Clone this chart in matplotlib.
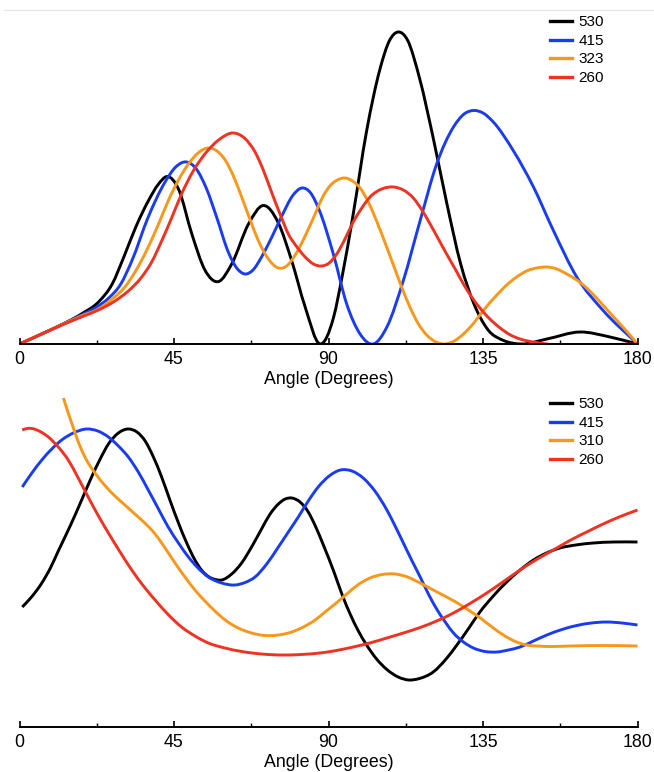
import numpy as np
import matplotlib
matplotlib.use("Agg")
import matplotlib.pyplot as plt
from matplotlib.path import Path
from matplotlib.patches import PathPatch
from matplotlib.lines import Line2D

plt.rcParams['font.family'] = ['Liberation Sans', 'DejaVu Sans']

# (angle, value) pairs, upper panel
top_530 = [(0, 0), (9, 14), (18, 30), (23, 42), (27, 60), (30.5, 88), (34, 118), (37.5, 143),
           (40.5, 160), (43, 167.5), (46.3, 155), (50.2, 110), (54, 74), (58, 62.5), (61.8, 80),
           (66.7, 120), (71, 138.5), (75.4, 121), (79.3, 83), (83.2, 37), (87.5, 0), (91.5, 27),
           (94, 68), (97.2, 130), (101.1, 213), (105, 275), (107.7, 303), (110.3, 312), (113, 304),
           (116.5, 266), (120.5, 206), (124.5, 140), (128.5, 80), (132.5, 39), (136.5, 14),
           (141, 3.5), (146, 0), (153.6, 5), (163.3, 12), (172, 7), (180, 0)]
top_415 = [(0, 0), (9, 14), (18, 29), (22, 36), (26, 46), (29.5, 60), (32.7, 83), (37.5, 127),
           (42.4, 162), (45.5, 177), (48.7, 182), (51.5, 175), (54.5, 155), (57.5, 126),
           (60.8, 92), (63.5, 75), (65.7, 70), (68, 74), (70.5, 87), (73.5, 107), (76.4, 128),
           (79.5, 148), (82.2, 156), (84.8, 151), (87.3, 134), (91.4, 90), (95.3, 40), (99.2, 10),
           (103.1, 0), (107, 17), (111.8, 63.5), (116.7, 123.5), (121.5, 180), (126.4, 217),
           (129.5, 230), (132.2, 233.5), (135, 231), (138, 222), (143.8, 193.5), (149.7, 157),
           (155.5, 113.5), (162.3, 67), (170, 33.5), (180, 0)]
top_323 = [(0, 0), (9, 14), (18, 28), (23, 35), (27, 45), (30.7, 57), (34, 74), (37.5, 97),
           (40.5, 120), (43.3, 143), (46.3, 164), (49.2, 180), (52, 191), (55, 196), (57.5, 193),
           (59.9, 184), (62.3, 168), (64.7, 147), (67.2, 124), (69.6, 103), (72.5, 85), (75.4, 76),
           (77.8, 78), (80.3, 89), (83.2, 108), (86.1, 130), (88.3, 147), (90.4, 158), (92.6, 164),
           (94.8, 166), (97, 163), (99.2, 156), (101.6, 142), (104, 123), (106.5, 101),
           (108.9, 79), (111.3, 57), (113.7, 37), (116.2, 20), (118.6, 9), (121.3, 2), (124, 0),
           (126.6, 3), (129.3, 10), (132.2, 20.5), (135.1, 33.5), (138.5, 47), (141.9, 59),
           (144.8, 67), (147.7, 73), (150.6, 76), (153.6, 77), (156.5, 75), (159.4, 70),
           (162.3, 64), (165.2, 56), (168.6, 44), (172, 31), (176, 16), (180, 0)]
top_260 = [(0, 0), (9, 14), (18, 27), (23, 34), (27.8, 43), (31.7, 53), (35.6, 67), (38.5, 82),
           (41.4, 103), (44.3, 126), (47.2, 150), (50.6, 173), (54, 190), (58, 204), (62.3, 211),
           (65.5, 206), (68.6, 192), (71, 174), (73.5, 151), (76, 129), (78.3, 110), (80.8, 97),
           (83.2, 87), (85.6, 80), (88, 78), (90.2, 81), (92.4, 90), (94.8, 105), (97.2, 122),
           (99.7, 136), (102.1, 147), (105.5, 155), (108.9, 157), (111.8, 154), (114.7, 146),
           (117.2, 134), (119.6, 120), (122, 105), (124.4, 90), (126.9, 75), (129.3, 60),
           (131.7, 47), (134.1, 36), (137, 25), (140, 16), (143, 9), (145.8, 5), (149.5, 2),
           (153.6, 0), (180, 0)]

# lower panel
bot_530 = [(0.8, 120), (3.5, 130), (6.5, 144), (9, 159), (11.3, 176), (13.8, 194), (16.2, 212),
           (18.6, 231), (21, 250), (23.5, 268), (25.9, 283), (28.8, 294), (31.7, 298), (34.2, 295),
           (36.6, 286), (39, 270), (41.4, 250), (43.8, 227), (46.3, 204), (48.7, 184), (51.1, 167),
           (53, 157), (55, 150.5), (57, 147.5), (58.9, 147), (61.8, 153), (64.7, 164), (67.6, 180),
           (70.5, 198), (73, 213), (75.4, 223), (77.4, 228), (79.3, 229), (81.7, 225), (84.1, 215),
           (86.3, 200), (88.5, 182), (91.6, 155), (94, 132), (96.3, 113), (98.7, 96), (101.1, 82),
           (104, 68), (107, 57.5), (110.3, 50), (113.4, 47), (116.5, 48.5), (120.5, 55), (124, 67),
           (127.4, 82), (130.7, 98), (134.1, 115), (138, 131), (141.9, 145), (145.8, 157),
           (149.7, 167), (153.5, 174), (157.4, 179), (162, 182), (167.1, 184), (173, 185),
           (180, 185)]
bot_415 = [(0.8, 240), (3.6, 254), (6.5, 267), (9.4, 278), (12.3, 287), (16, 294.5), (19.6, 298),
           (22.8, 296), (25.9, 290), (28.8, 281), (31.7, 270), (34.6, 255), (37.5, 237),
           (40.4, 218.5), (43.3, 200), (46.3, 184), (49.2, 170), (52, 159), (55, 150), (58.9, 144),
           (62.8, 142), (65.7, 144.5), (68.6, 150), (72, 163), (75.4, 180), (78.3, 195), (81.2, 210),
           (84.1, 226), (87, 240), (90.2, 251), (93.5, 257), (96.8, 256), (100.1, 249), (103.5, 236),
           (107, 217), (109.4, 201), (111.8, 184), (114.2, 167), (116.7, 150), (119.1, 133),
           (121.5, 118), (124, 105), (126.4, 94), (129.3, 85), (132.2, 79), (135.6, 75.5), (139, 75),
           (142.4, 77), (145.8, 80), (149.7, 86), (153.6, 92), (158, 97.5), (162.3, 101.5),
           (166.6, 104), (171, 105), (175.5, 104), (180, 102)]
bot_310 = [(12.8, 329), (14, 316), (15.2, 304), (16.6, 290), (18.1, 277), (20, 264), (22, 254),
           (25, 241), (27.8, 231), (30.7, 222), (33.6, 213), (36.5, 204), (39.5, 193), (42.4, 179),
           (45.3, 164), (48.2, 150), (51.1, 137), (54, 126), (56.9, 116), (60.3, 106), (63.7, 99),
           (67.6, 94), (71.5, 91.5), (75.4, 92), (79.3, 95), (82.7, 100), (86.1, 107), (89, 115),
           (91.9, 123), (95, 132), (98.5, 142), (102.1, 149), (105.7, 152.5), (109.4, 153),
           (113, 150), (116.7, 144), (120.5, 137), (124.4, 130), (127.8, 123.5), (131.2, 116),
           (134.6, 108), (138, 99), (141.4, 91), (144.8, 85), (147.7, 82), (150.6, 81),
           (155, 80.5), (160.4, 81), (170, 81.5), (180, 81)]
bot_260 = [(0.8, 297), (2.2, 298.5), (3.6, 298.5), (6, 295.5), (8.4, 290), (11.3, 280), (14.2, 267),
           (17.1, 249), (20, 230), (23, 211), (25.9, 194), (29.3, 175), (32.7, 157), (36.1, 141),
           (39.5, 127), (43.3, 112.5), (47.2, 100), (51.1, 91), (55, 84), (59.8, 79), (64.7, 75.5),
           (70.5, 73), (76.4, 72), (82, 72.5), (87.5, 74), (92.3, 76.5), (97.2, 80), (102, 84),
           (107, 89), (111.8, 94), (116.7, 99.5), (121.5, 106), (126.4, 114), (131.2, 123.5),
           (136.1, 134), (141, 145.5), (145.8, 157), (150.6, 167.5), (155.5, 177), (160.3, 186.5),
           (165.2, 195), (170, 203), (175, 210.5), (180, 217)]

top_labels = ['530', '415', '323', '260']
bot_labels = ['530', '415', '310', '260']
colors = ['#000000', '#1a3cf0', '#f7981d', '#ee3322']
ticks = [0, 45, 90, 135, 180]


def smooth_path(points):
    # cubic hermite in x through the read points, drawn as bezier segments
    p = np.array(points, dtype=float)
    x, y = p[:, 0], p[:, 1]
    h = np.diff(x)
    d = np.diff(y) / h
    m = np.empty(len(x))
    m[0], m[-1] = d[0], d[-1]
    m[1:-1] = (h[1:] * d[:-1] + h[:-1] * d[1:]) / (h[:-1] + h[1:])
    verts = [p[0]]
    codes = [Path.MOVETO]
    for i in range(len(x) - 1):
        verts += [(x[i] + h[i] / 3, y[i] + m[i] * h[i] / 3),
                  (x[i + 1] - h[i] / 3, y[i + 1] - m[i + 1] * h[i] / 3),
                  (x[i + 1], y[i + 1])]
        codes += [Path.CURVE4] * 3
    return Path(verts, codes)


def draw_panel(ax, series, labels, ytop, leg_y):
    for pts, c in zip(series, colors):
        ax.add_patch(PathPatch(smooth_path(pts), fill=False, edgecolor=c, lw=2.1,
                               capstyle='butt', joinstyle='round'))
    ax.set_xlim(0, 180)
    ax.set_ylim(0, ytop)
    for s in ['left', 'right', 'top']:
        ax.spines[s].set_visible(False)
    ax.spines['bottom'].set_linewidth(1.4)
    ax.set_yticks([])
    ax.set_xticks(ticks)
    ax.set_xticks([22.5, 67.5, 112.5, 157.5], minor=True)
    ax.tick_params(axis='x', which='major', direction='in', length=4, width=1.2, pad=5,
                   labelsize=12.8)
    ax.tick_params(axis='x', which='minor', direction='in', length=3, width=1.0)
    ax.set_xlabel('Angle (Degrees)', fontsize=12.8, labelpad=2)
    handles = [Line2D([], [], color=c, lw=2.4) for c in colors]
    ax.legend(handles, labels, loc='upper left', bbox_to_anchor=(0.859, leg_y), frameon=False,
              fontsize=11, handlelength=1.44, handletextpad=0.4, labelspacing=0.3,
              borderaxespad=0, borderpad=0)


fig = plt.figure(figsize=(6.54, 7.72), dpi=100)
ax1 = fig.add_axes([19.5 / 654, 428 / 772, 618 / 654, 333 / 772])
ax2 = fig.add_axes([19.5 / 654, 45 / 772, 618 / 654, 331 / 772])

draw_panel(ax1, [top_530, top_415, top_323, top_260], top_labels, 333, 0.987)
draw_panel(ax2, [bot_530, bot_415, bot_310, bot_260], bot_labels, 331, 0.996)

# faint rule along the top edge
fig.add_artist(Line2D([4 / 654, 1], [762.5 / 772, 762.5 / 772], color='#e4e4e4', lw=0.8))

fig.savefig('out.png', dpi=100)
